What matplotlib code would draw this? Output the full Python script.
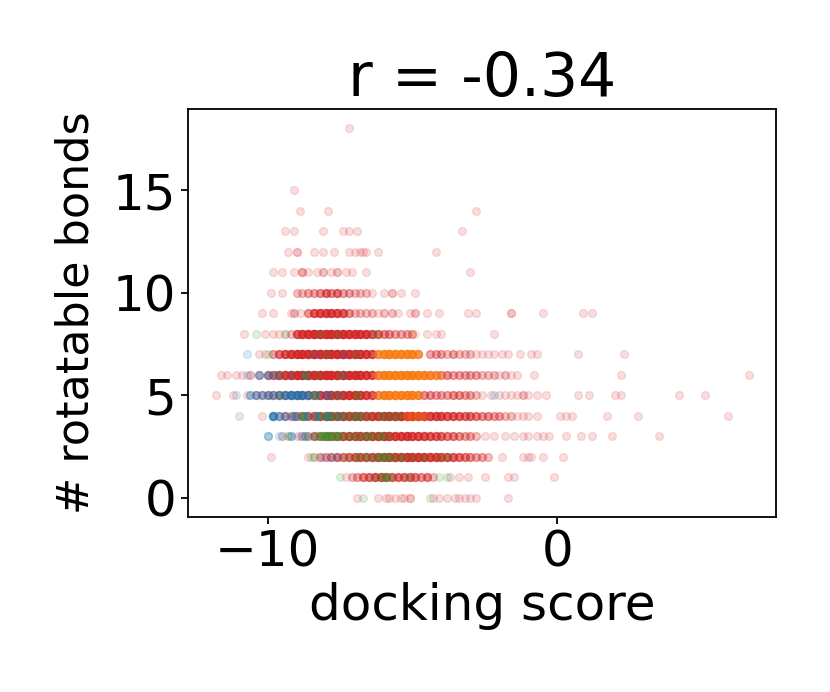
import matplotlib
matplotlib.use("Agg")
import matplotlib.pyplot as plt
import numpy as np

# rows of (rotatable bonds, docking scores, how many molecules sit on that spot)
red_rows = [
    (18, [-7.2], [1]),
    (15, [-9.1], [1]),
    (14, [-8.9, -7.9, -2.8], [1, 1, 1]),
    (13, [-9.4, -9.1, -8.1, -7.4, -7.2, -6.9, -3.3], [1, 1, 1, 1, 1, 1, 1]),
    (12, [-9.3, -9.0, -8.4, -8.1, -7.7, -7.2, -7.0, -6.8, -6.7, -6.6, -6.2, -4.2],
         [1, 2, 1, 1, 1, 1, 1, 1, 1, 1, 1, 1]),
    (11, [-9.8, -9.5, -9.1, -8.8, -8.6, -8.3, -8.1, -7.8, -7.6, -7.3, -7.1, -6.6, -3.0],
         [1, 1, 1, 3, 1, 1, 2, 1, 2, 1, 1, 1, 1]),
    (10, [-9.9, -9.5, -9.0, -8.8, -8.6, -8.4, -8.2, -8.0, -7.8, -7.6, -7.4, -7.2, -7.0,
          -6.8, -6.6, -6.4, -6.0, -5.7, -5.4, -4.9],
         [1, 1, 2, 2, 3, 3, 4, 6, 4, 6, 3, 3, 2, 2, 2, 1, 1, 2, 1, 1]),
    (9, [-10.2, -9.8, -9.2, -9.1, -8.9, -8.6, -8.4, -8.2, -8.0, -7.8, -7.6, -7.4, -7.2,
         -7.0, -6.8, -6.6, -6.4, -6.2, -6.0, -5.7, -5.5, -5.1, -4.9, -4.5, -4.1, -3.1,
         -2.8, -1.6, -0.5, 0.9, 1.2],
        [1, 1, 1, 2, 1, 4, 8, 10, 10, 10, 10, 8, 4, 2, 2, 2, 2, 1, 2, 2, 1, 1, 2, 1, 1,
         1, 1, 2, 1, 1, 1]),
    (8, [-10.8, -10.1, -9.8, -9.6, -9.4, -9.2, -9.0, -8.8, -8.6, -8.4, -8.2, -8.0, -7.8,
         -7.6, -7.4, -7.2, -7.0, -6.8, -6.6, -6.4, -6.2, -6.0, -5.8, -5.6, -5.4, -5.2,
         -5.0, -4.5, -4.2, -4.0, -2.2],
        [1, 1, 1, 1, 1, 2, 8, 12, 14, 16, 16, 16, 16, 16, 16, 14, 14, 12, 12, 8, 6, 4,
         4, 3, 3, 3, 3, 1, 1, 1, 1]),
    (7, [-10.3, -10.1, -9.8, -9.6, -9.4, -9.2, -9.0, -8.8, -8.6, -8.4, -8.2, -8.0, -7.8,
         -7.6, -7.4, -7.2, -7.0, -6.8, -6.6, -6.4, -6.2, -6.0, -5.8, -5.6, -5.4, -5.2,
         -5.0, -4.8, -4.4, -4.2, -4.0, -3.8, -3.6, -3.4, -3.2, -3.0, -2.8, -2.6, -2.4,
         -2.2, -1.9, -1.7, -1.3, -0.9, -0.7, 0.7, 2.3],
        [1, 1, 3, 6, 9, 12, 14, 16, 16, 18, 18, 18, 18, 18, 18, 16, 16, 14, 12, 9, 2,
         2, 2, 2, 2, 2, 2, 2, 3, 3, 3, 2, 3, 2, 2, 2, 1, 1, 1, 1, 1, 1, 1, 1, 1, 1, 1]),
    (6, [-11.6, -11.4, -11.1, -10.9, -10.6, -10.3, -10.0, -9.8, -9.6, -9.4, -9.2, -9.0,
         -8.8, -8.6, -8.4, -8.2, -8.0, -7.8, -7.6, -7.4, -7.2, -7.0, -6.8, -6.6, -6.4,
         -6.2, -6.0, -5.8, -5.6, -5.4, -5.2, -5.0, -4.8, -4.6, -4.4, -4.2, -4.0, -3.8,
         -3.6, -3.4, -3.2, -3.0, -2.8, -2.6, -2.4, -2.2, -2.0, -1.8, -1.6, -1.4, -0.8,
         2.2, 6.6],
        [1, 1, 1, 1, 2, 2, 4, 6, 9, 12, 14, 16, 16, 18, 18, 18, 18, 18, 18, 16, 16, 16,
         14, 12, 9, 3, 3, 3, 3, 3, 3, 3, 3, 3, 3, 3, 3, 4, 3, 3, 3, 3, 3, 2, 2, 2, 1, 2,
         1, 1, 1, 1, 1]),
    (5, [-11.8, -11.2, -10.7, -10.4, -10.2, -10.0, -9.8, -9.6, -9.4, -9.2, -9.0, -8.8,
         -8.6, -8.4, -8.2, -8.0, -7.8, -7.6, -7.4, -7.2, -7.0, -6.8, -6.6, -6.4, -6.2,
         -6.0, -5.8, -5.6, -5.4, -5.2, -5.0, -4.8, -4.6, -4.4, -4.2, -4.0, -3.8, -3.6,
         -3.4, -3.2, -3.0, -2.8, -2.6, -2.3, -2.0, -1.8, -1.6, -1.4, -1.2, -1.0, -0.7,
         -0.4, 0.7, 1.1, 2.0, 2.2, 4.2, 5.1],
        [1, 1, 1, 2, 2, 3, 3, 4, 4, 5, 5, 5, 6, 7, 9, 10, 12, 14, 14, 14, 14, 12, 10, 8,
         3, 3, 3, 3, 3, 3, 3, 3, 4, 4, 3, 3, 3, 4, 4, 3, 3, 2, 1, 1, 1, 1, 1, 1, 2, 1,
         1, 1, 1, 1, 1, 1, 1, 1]),
    (4, [-10.2, -9.6, -9.4, -9.2, -9.0, -8.8, -8.6, -8.4, -8.2, -8.0, -7.8, -7.6, -7.4,
         -7.2, -7.0, -6.8, -6.6, -6.4, -6.2, -6.0, -5.8, -5.6, -5.4, -5.2, -5.0, -4.8,
         -4.6, -4.4, -4.2, -4.0, -3.8, -3.6, -3.4, -3.2, -3.0, -2.8, -2.6, -2.4, -2.2,
         -2.0, -1.8, -1.6, -1.4, -1.2, -1.0, -0.7, 0.1, 0.3, 0.5, 1.7, 2.8, 5.9],
        [1, 2, 3, 3, 4, 5, 6, 7, 8, 9, 10, 11, 12, 12, 12, 12, 12, 12, 12, 12, 14, 14,
         14, 14, 14, 12, 12, 10, 10, 9, 8, 8, 7, 6, 6, 5, 4, 4, 3, 3, 2, 2, 1, 1, 1, 1,
         1, 1, 1, 1, 1, 1]),
    (3, [-9.5, -9.3, -9.0, -8.8, -8.6, -8.4, -8.2, -8.0, -7.8, -7.6, -7.4, -7.2, -7.0,
         -6.8, -6.6, -6.4, -6.2, -6.0, -5.8, -5.6, -5.4, -5.2, -5.0, -4.8, -4.6, -4.4,
         -4.2, -4.0, -3.8, -3.6, -3.4, -3.2, -3.0, -2.8, -2.5, -2.2, -1.8, -1.5, -1.2,
         -1.0, -0.7, -0.5, -0.3, 0.3, 0.8, 1.2, 1.9, 3.5],
        [1, 1, 1, 2, 2, 5, 5, 6, 7, 8, 9, 10, 10, 11, 12, 12, 12, 12, 12, 12, 12, 12,
         10, 10, 9, 8, 7, 6, 5, 5, 4, 3, 3, 2, 1, 1, 1, 1, 1, 1, 1, 1, 1, 1, 1, 1, 1, 1]),
    (2, [-9.9, -8.6, -8.4, -8.2, -8.0, -7.8, -7.6, -7.4, -7.2, -7.0, -6.8, -6.6, -6.4,
         -6.2, -6.0, -5.8, -5.6, -5.4, -5.2, -5.0, -4.8, -4.6, -4.4, -4.2, -4.0, -3.8,
         -3.6, -3.4, -3.2, -3.0, -2.8, -2.6, -2.4, -1.9, -1.2, -1.0, -0.9, -0.5, 0.2],
        [1, 1, 1, 3, 3, 4, 5, 5, 6, 7, 8, 8, 9, 10, 10, 11, 12, 12, 13, 13, 13, 12, 11,
         10, 9, 8, 7, 6, 5, 4, 3, 3, 2, 1, 1, 1, 1, 1, 1]),
    (1, [-7.3, -7.1, -6.9, -6.7, -6.5, -6.3, -6.1, -5.9, -5.7, -5.5, -5.3, -5.1, -4.9,
         -4.7, -4.5, -4.3, -3.7, -3.4, -3.1, -2.5, -1.7, -1.5, -0.1],
        [1, 2, 3, 5, 6, 8, 8, 7, 6, 6, 6, 6, 5, 4, 5, 2, 1, 1, 1, 1, 1, 1, 1]),
    (0, [-6.9, -6.2, -5.9, -5.8, -5.6, -5.4, -5.3, -5.1, -4.3, -4.1, -3.8, -3.55, -3.4,
         -3.2, -3.0, -2.8, -1.7],
        [1, 1, 1, 1, 1, 1, 1, 2, 1, 1, 1, 1, 1, 1, 1, 1, 1]),
]

blue_rows = [
    (7, [-10.7, -8.4, -7.4], [1, 1, 1]),
    (6, [-10.7, -10.3, -10.0, -9.7, -9.2, -8.7, -7.4], [1, 3, 3, 2, 1, 2, 1]),
    (5, [-11.1, -10.6, -10.4, -10.2, -10.0, -9.8, -9.6, -9.4, -9.2, -9.0, -8.8, -8.6,
         -8.3, -7.9, -7.5, -2.2],
        [1, 3, 3, 3, 3, 3, 4, 6, 8, 8, 8, 6, 3, 3, 1, 1]),
    (4, [-11.0, -9.8, -9.6, -9.4, -9.1, -8.7, -8.3, -7.9, -7.5, -7.0],
        [1, 9, 3, 3, 5, 5, 5, 5, 2, 1]),
    (3, [-10.0, -9.6, -9.5, -9.2, -8.9, -8.7, -8.4], [3, 1, 1, 3, 1, 3, 1]),
    (2, [-8.1, -7.8, -7.6], [1, 1, 1]),
]

green_rows = [
    (8, [-10.4, -9.4, -8.2, -7.6, -6.3], [1, 1, 1, 1, 1]),
    (7, [-10.0, -8.0, -7.0], [1, 1, 1]),
    (6, [-9.6, -8.7, -8.3, -7.5], [1, 2, 1, 1]),
    (5, [-9.6, -8.4, -7.6, -6.9, -6.0], [1, 2, 1, 2, 1]),
    (4, [-8.8, -8.3, -8.0, -7.7, -7.4, -7.1, -6.8, -6.5, -6.1, -5.8, -5.5],
        [3, 2, 3, 3, 2, 2, 3, 1, 2, 2, 2]),
    (3, [-9.3, -8.6, -8.3, -8.1, -7.9, -7.7, -7.5, -7.2, -6.9, -6.6, -6.4, -6.1, -5.8],
        [1, 1, 2, 6, 6, 5, 3, 2, 2, 3, 2, 3, 1]),
    (2, [-8.5, -8.4, -7.3, -6.9, -6.6, -6.3, -6.1, -5.9, -5.7, -5.4, -5.0, -4.6, -4.1,
         -3.8],
        [1, 1, 1, 2, 2, 2, 3, 3, 2, 2, 1, 1, 1, 1]),
    (1, [-7.5, -6.3, -6.0, -5.8, -5.2, -4.1, -3.8], [1, 1, 3, 2, 1, 1, 1]),
    (0, [-6.7, -4.4], [1, 1]),
]

orange_rows = [
    (8, [-4.9], [1]),
    (7, [-6.2, -6.0, -5.8, -5.6, -5.4, -5.2, -5.0, -4.8], [6, 9, 10, 11, 11, 10, 10, 6]),
    (6, [-6.2, -6.0, -5.8, -5.6, -5.4, -5.2, -5.0, -4.8, -4.6, -4.4, -4.2, -4.0],
        [6, 9, 10, 11, 11, 11, 11, 10, 9, 7, 4, 2]),
    (5, [-6.2, -6.0, -5.8, -5.6, -5.4, -5.2, -5.0, -4.8], [4, 7, 8, 9, 9, 9, 9, 6]),
    (4, [-5.2, -5.0, -4.8, -4.6], [2, 2, 2, 2]),
]

r_value = -0.34


def expand(rows):
    xs, ys = [], []
    for y, x, n in rows:
        assert len(x) == len(n), y
        xs.extend(np.repeat(x, n))
        ys.extend([y] * int(np.sum(n)))
    return np.array(xs), np.array(ys)


plt.rcParams['font.size'] = 36

fig = plt.figure(figsize=(8.3, 6.92), dpi=100)
ax = fig.add_axes([0.2265, 0.2529, 0.7085, 0.5896])

for rows, color in [(red_rows, 'tab:red'), (blue_rows, 'tab:blue'),
                    (green_rows, 'tab:green'), (orange_rows, 'tab:orange')]:
    x, y = expand(rows)
    ax.scatter(x, y, s=32, color=color, alpha=0.15)

ax.set_xlim(-12.75, 7.55)
ax.set_ylim(-0.93, 18.95)
ax.set_xticks([-10, 0])
ax.set_yticks([0, 5, 10, 15])
ax.tick_params(length=5, width=1.3)
for sp in ax.spines.values():
    sp.set_linewidth(1.3)

ax.set_xlabel('docking score')
ax.set_ylabel('# rotatable bonds', fontsize=32, labelpad=11)
ax.set_title('r = %.2f' % r_value)

fig.savefig('out.png', dpi=100)
